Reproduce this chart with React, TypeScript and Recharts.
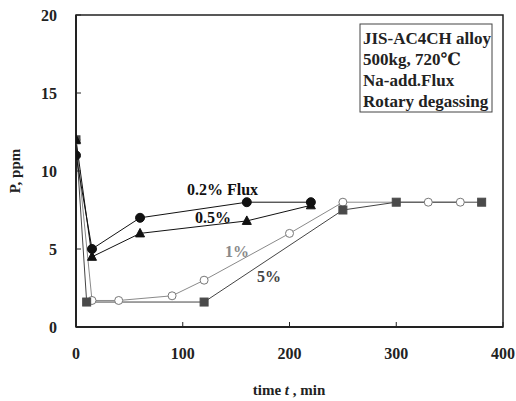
import React from 'react';
import { LineChart, Line, XAxis, YAxis, ReferenceArea } from 'recharts';

// P content vs. time for each flux addition
const flux02Time = [0, 15, 60, 160, 220];
const flux02P = [11, 5, 7, 8, 8];
const flux05Time = [0, 15, 60, 160, 220];
const flux05P = [12, 4.5, 6, 6.8, 7.8];
const flux1Time = [0, 15, 40, 90, 120, 200, 250, 330, 360];
const flux1P = [12, 1.7, 1.7, 2, 3, 6, 8, 8, 8];
const flux5Time = [0, 10, 120, 250, 300, 380];
const flux5P = [12, 1.6, 1.6, 7.5, 8, 8];

const xTicks = [0, 100, 200, 300, 400];
const yTicks = [0, 5, 10, 15, 20];
const noteLines = ['JIS-AC4CH alloy', '500kg, 720℃', 'Na-add.Flux', 'Rotary degassing'];

const toRows = (t: number[], p: number[]) => t.map((v, i) => ({ t: v, p: p[i] }));

const FONT = '"Liberation Serif", "DejaVu Serif", serif';

const Triangle = (props: any) => {
    const { cx, cy, index } = props;
    if (cx == null || cy == null) return <g key={index} />;
    return <polygon key={index} points={`${cx},${cy - 5} ${cx - 4.5},${cy + 3.5} ${cx + 4.5},${cy + 3.5}`} fill="#111" stroke="#111" />;
};

const Square = (props: any) => {
    const { cx, cy, index } = props;
    if (cx == null || cy == null) return <g key={index} />;
    return <rect key={index} x={cx - 4} y={cy - 4} width={8} height={8} fill="#4a4a4a" stroke="#4a4a4a" />;
};

export default function App() {
    const tickStyle = { fill: '#222', fontSize: 16, fontWeight: 'bold', fontFamily: FONT };
    return (
        <div style={{ position: 'absolute', left: 0, top: 0, background: '#fff' }}>
            <LineChart width={516} height={401} margin={{ top: 15, right: 13, left: 0, bottom: 0 }}>
                <XAxis
                    type="number"
                    dataKey="t"
                    domain={[0, 400]}
                    ticks={xTicks}
                    height={74}
                    tickSize={-5}
                    tickMargin={26}
                    tick={tickStyle}
                    axisLine={{ stroke: '#222', strokeWidth: 2 }}
                    tickLine={{ stroke: '#222', strokeWidth: 1 }}
                    allowDataOverflow
                />
                <YAxis
                    type="number"
                    domain={[0, 20]}
                    ticks={yTicks}
                    width={76}
                    tickSize={-5}
                    tickMargin={24}
                    tick={tickStyle}
                    axisLine={{ stroke: '#222', strokeWidth: 2 }}
                    tickLine={{ stroke: '#222', strokeWidth: 1 }}
                    allowDataOverflow
                />
                <ReferenceArea x1={0} x2={400} y1={0} y2={20} fill="none" stroke="#222" strokeWidth={1.5} />

                <Line data={toRows(flux1Time, flux1P)} dataKey="p" stroke="#8a8a8a" strokeWidth={1}
                    dot={{ r: 4, fill: '#fff', stroke: '#777', strokeWidth: 1 }} isAnimationActive={false} />
                <Line data={toRows(flux5Time, flux5P)} dataKey="p" stroke="#444" strokeWidth={1}
                    dot={Square} isAnimationActive={false} />
                <Line data={toRows(flux05Time, flux05P)} dataKey="p" stroke="#111" strokeWidth={1}
                    dot={Triangle} isAnimationActive={false} />
                <Line data={toRows(flux02Time, flux02P)} dataKey="p" stroke="#111" strokeWidth={1}
                    dot={{ r: 4.5, fill: '#111', stroke: '#111' }} isAnimationActive={false} />

                <g fontFamily={FONT} fontWeight="bold" fontSize={16}>
                    <text x={187} y={195} fill="#111">0.2% Flux</text>
                    <text x={195} y={223} fill="#111">0.5%</text>
                    <text x={225} y={257} fill="#8a8a8a">1%</text>
                    <text x={257} y={282} fill="#444">5%</text>

                    <rect x={360} y={24} width={132} height={88} fill="#fff" stroke="#444" strokeWidth={1} />
                    {noteLines.map((s, i) => (
                        <text key={s} x={363} y={44 + i * 21} fill="#222" fontSize={17}>{s}</text>
                    ))}

                    <text x={289} y={395} textAnchor="middle" fill="#222" fontSize={15}>
                        time <tspan fontStyle="italic">t</tspan> , min
                    </text>
                    <text x={20} y={171} textAnchor="middle" fill="#222" fontSize={15} transform="rotate(-90 20 171)">
                        P, ppm
                    </text>
                </g>
            </LineChart>
        </div>
    );
}
